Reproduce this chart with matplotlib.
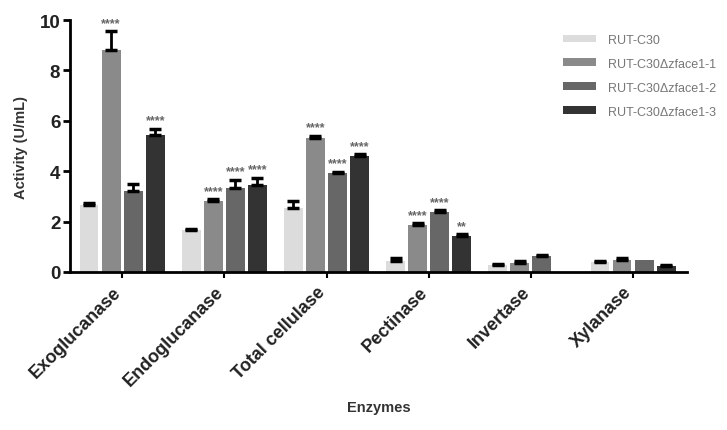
import matplotlib
matplotlib.use('Agg')
import matplotlib.pyplot as plt
import matplotlib.transforms as mtransforms
import numpy as np

plt.rcParams['font.family'] = ['Liberation Sans', 'DejaVu Sans']

enzymes = ['Exoglucanase', 'Endoglucanase', 'Total cellulase',
           'Pectinase', 'Invertase', 'Xylanase']
strains = ['RUT-C30', 'RUT-C30\u0394zface1-1',
           'RUT-C30\u0394zface1-2', 'RUT-C30\u0394zface1-3']

rut_c30 = [2.67, 1.65, 2.54, 0.42, 0.26, 0.38]
zface1_1 = [8.80, 2.81, 5.33, 1.88, 0.37, 0.49]
zface1_2 = [3.23, 3.35, 3.92, 2.40, 0.62, 0.48]
zface1_3 = [5.44, 3.47, 4.62, 1.42, 0.0, 0.22]

rut_c30_err = [0.05, 0.05, 0.27, 0.15, 0.05, 0.05]
zface1_1_err = [0.75, 0.08, 0.08, 0.05, 0.05, 0.05]
zface1_2_err = [0.27, 0.30, 0.06, 0.05, 0.05, 0.0]
zface1_3_err = [0.25, 0.28, 0.05, 0.07, 0.0, 0.05]

rut_c30_sig = ['', '', '', '', '', '']
zface1_1_sig = ['****', '****', '****', '****', '', '']
zface1_2_sig = ['', '****', '****', '****', '', '']
zface1_3_sig = ['****', '****', '****', '**', '', '']

COLORS = ['#dcdcdc', '#8a8a8a', '#676767', '#333333']

series = [(rut_c30, rut_c30_err, rut_c30_sig),
          (zface1_1, zface1_1_err, zface1_1_sig),
          (zface1_2, zface1_2_err, zface1_2_sig),
          (zface1_3, zface1_3_err, zface1_3_sig)]

fig = plt.figure(figsize=(7.27, 4.31), dpi=100)
ax = fig.add_axes([0.0963, 0.3666, 0.849, 0.5844])

x = np.arange(len(enzymes))
pitch = 0.216
width = 0.185

for i, (vals, errs, sigs) in enumerate(series):
    pos = x + (i - 1.5) * pitch
    vals = np.array(vals)
    errs = np.array(errs)
    ax.bar(pos, vals, width, color=COLORS[i], label=strains[i],
           edgecolor='none', zorder=2)
    # only upper whiskers, and none where no deviation was recorded
    has_err = errs > 0
    ax.errorbar(pos[has_err], vals[has_err],
                yerr=[np.zeros(has_err.sum()), errs[has_err]], fmt='none',
                ecolor='black', elinewidth=2, capsize=4, capthick=2.5,
                zorder=3)
    for p, v, e, s in zip(pos, vals, errs, sigs):
        if s:
            ax.text(p, v + e + 0.1, s, ha='center', va='bottom',
                    fontsize=9, color='#666666', fontweight='bold')

ax.spines['top'].set_visible(False)
ax.spines['right'].set_visible(False)
ax.spines['left'].set_linewidth(2)
ax.spines['bottom'].set_linewidth(2)
ax.tick_params(axis='y', width=2, length=5, pad=2)
ax.tick_params(axis='x', width=1.5, length=4, pad=4)

ax.set_xlim(-0.51, 5.53)
ax.set_ylim(0, 10)
ax.set_yticks([0, 2, 4, 6, 8, 10])
ax.set_xticks(x)
ax.set_xticklabels(enzymes, rotation=45, ha='right', rotation_mode='anchor',
                   fontsize=13, fontweight='bold', color='#222222')
# nudge the slanted labels so they end under their ticks
shift = mtransforms.ScaledTranslation(-7 / 72, 0, fig.dpi_scale_trans)
for lbl in ax.get_xticklabels():
    lbl.set_transform(lbl.get_transform() + shift)
for lbl in ax.get_yticklabels():
    lbl.set_fontsize(13.5)
    lbl.set_fontweight('bold')
    lbl.set_color('#222222')

ax.set_ylabel('Activity (U/mL)', fontsize=10.5, fontweight='bold',
              color='#333333', labelpad=8)
ax.set_xlabel('Enzymes', fontsize=10.5, fontweight='bold', color='#333333',
              labelpad=8)

ax.legend(loc='upper left', bbox_to_anchor=(0.78, 0.99), frameon=False,
          fontsize=9, handlelength=2.65, handleheight=0.6,
          labelspacing=0.95, handletextpad=0.95, labelcolor='#777777')

plt.savefig('out.png', dpi=100)
plt.close()
